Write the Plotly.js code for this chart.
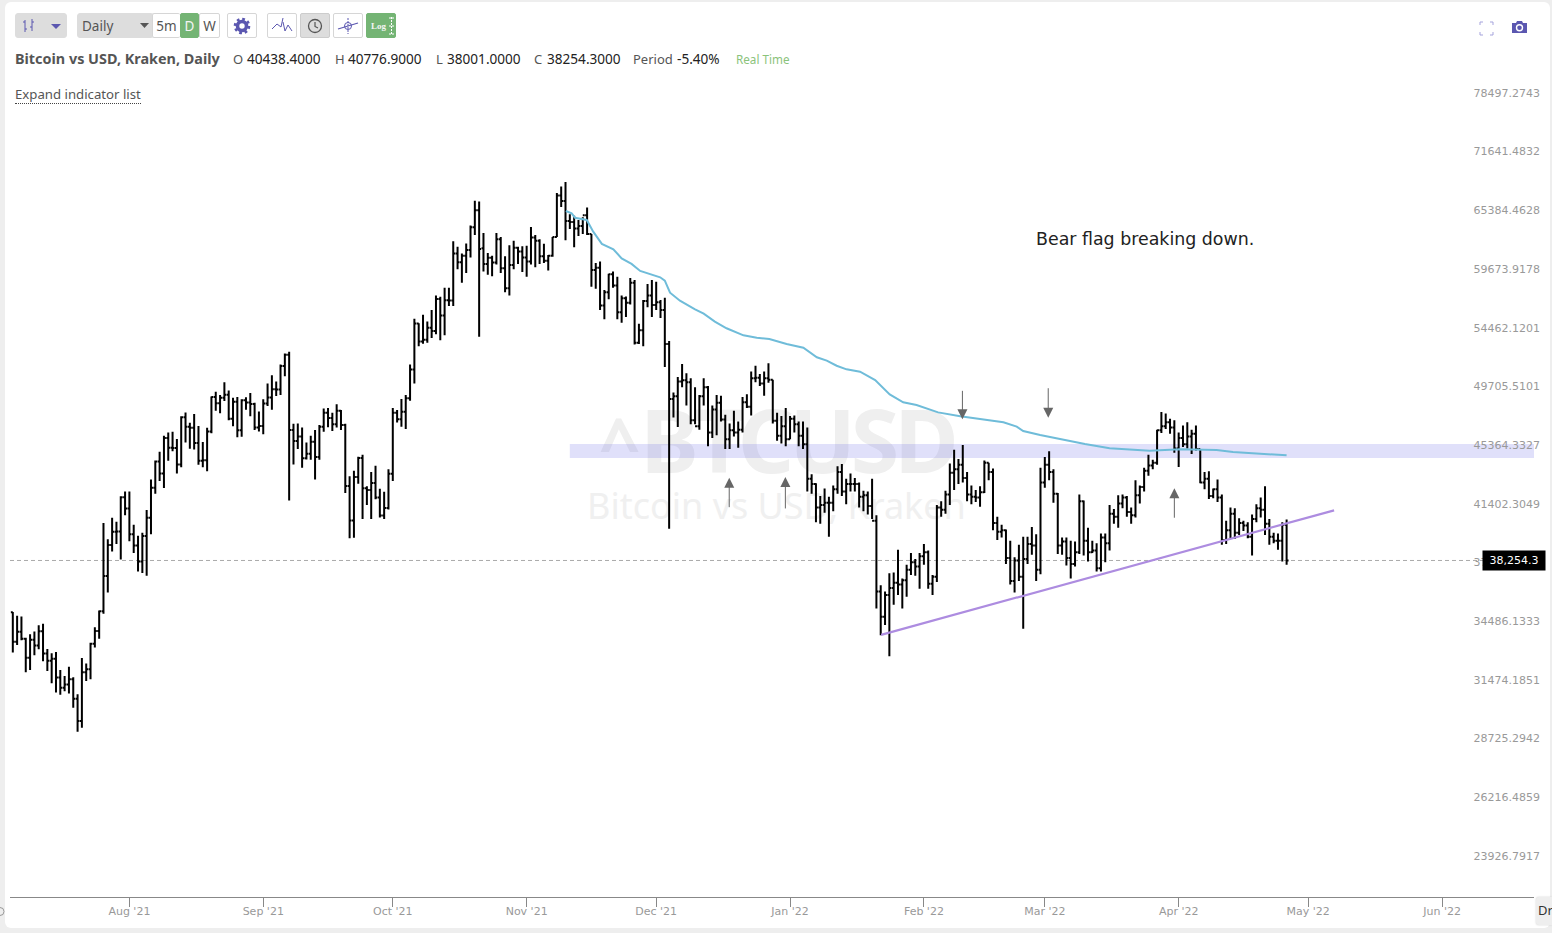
<!DOCTYPE html>
<html><head><meta charset="utf-8">
<script src="https://cdn.plot.ly/plotly-3.0.1.min.js"></script>
<style>
html,body{margin:0;padding:0;width:1552px;height:933px;overflow:hidden;background:#eeeeee;font-family:"Noto Sans",sans-serif}
#card{position:absolute;left:5px;top:2px;width:1545px;height:926px;background:#fff;border-radius:6px}
#chart{position:absolute;left:0;top:0;width:1552px;height:933px}
.h{position:absolute;white-space:nowrap}
.t{font-size:13.6px;line-height:20px;top:49px;color:#222}
.l{font-size:13px;line-height:20px;top:49px;color:#555}
.btn{position:absolute;top:13px;height:25px;box-sizing:border-box;border:1px solid #d6d6d6;background:#fff;border-radius:2px;display:flex;align-items:center;justify-content:center;font-size:13.5px;color:#555}
.grey{background:#ddd;border-color:#ddd}
.green{background:#74b474;border-color:#74b474;color:#f4f4f4}
</style></head><body>
<div id="card"></div>
<div class="h" style="left:599px;top:405px;font-size:88px;line-height:68px;font-weight:bold;letter-spacing:-5px;color:#efefef"><span style="font-size:72px;letter-spacing:0;vertical-align:3px">^</span>BTCUSD</div>
<div class="h" style="left:587px;top:488px;font-size:36px;line-height:36px;color:#f0f0f0">Bitcoin vs USD, Kraken</div>
<div id="chart"></div>

<div class="btn grey" style="left:15px;width:52px;border-radius:3px;justify-content:flex-start">
 <svg width="50" height="23"><path d="M9 6V18M16 5V17M7 8H9M9 15H11M14 13H16M16 8H18" stroke="#5b57b0" stroke-width="1" fill="none"/><path d="M35 10H45L40 15Z" fill="#5b57b0"/></svg></div>
<div class="btn grey" style="left:77px;width:75px;justify-content:flex-start;padding-left:4px;border-radius:3px 0 0 3px">Daily
 <svg width="12" height="10" style="position:absolute;left:61px;top:7px"><path d="M1 2H10L5.5 7Z" fill="#555"/></svg></div>
<div class="btn" style="left:152px;width:28px;border-right:0">5m</div>
<div class="btn green" style="left:180px;width:19px">D</div>
<div class="btn" style="left:199px;width:21px">W</div>
<div class="btn" style="left:227px;width:30px"><svg width="18" height="18" viewBox="0 0 18 18"><circle cx="9" cy="9" r="4.5" fill="none" stroke="#5b57b0" stroke-width="3.6"/><circle cx="9" cy="9" r="7" fill="none" stroke="#5b57b0" stroke-width="2.6" stroke-dasharray="2.7 2.8"/></svg></div>
<div class="btn" style="left:267px;width:30px"><svg width="24" height="20"><path d="M2 13L7 8L11 11L13 2M13 6L15 15L18 9L22 15" stroke="#5b57b0" stroke-width="1" fill="none"/></svg></div>
<div class="btn grey" style="left:300px;width:30px;border-color:#ccc"><svg width="18" height="18"><circle cx="9" cy="9" r="6.5" fill="none" stroke="#555" stroke-width="1.3"/><path d="M9 5V9.5L12 11" stroke="#555" stroke-width="1.2" fill="none"/></svg></div>
<div class="btn" style="left:333px;width:30px"><svg width="24" height="20"><path d="M2 13L22 7" stroke="#5b57b0" stroke-width="1.3"/><circle cx="12" cy="10" r="3.5" stroke="#5b57b0" fill="none"/><path d="M12 2V18" stroke="#5b57b0" stroke-dasharray="2 1"/></svg></div>
<div class="btn green" style="left:366px;width:30px;font-family:'Liberation Serif',serif;font-size:9px;font-weight:bold;justify-content:flex-start;padding-left:4px">Log
 <svg width="9" height="20" style="margin-left:1px"><path d="M4.5 1V19M2 2H7M2 10H7M2 18H7" stroke="#fff" stroke-dasharray="2 1"/></svg></div>

<svg class="h" style="left:1479px;top:21px" width="15" height="15"><path d="M1 4V1H4M11 1H14V4M1 11V14H4M11 14H14V11" stroke="#a5a3dc" fill="none"/></svg>
<svg class="h" style="left:1511px;top:19px" width="17" height="16"><path d="M1 4H5L6 2H11L12 4H16V14H1Z" fill="#5b57b0"/><circle cx="8.5" cy="8.7" r="3" fill="none" stroke="#fff" stroke-width="1.4"/></svg>

<div class="h" style="left:15px;top:49px;font-size:14.4px;line-height:20px;font-weight:bold;color:#555">Bitcoin vs USD, Kraken, Daily</div>
<div class="h l" style="left:233px">O</div><div class="h t" style="left:247px">40438.4000</div>
<div class="h l" style="left:335px">H</div><div class="h t" style="left:348px">40776.9000</div>
<div class="h l" style="left:436px">L</div><div class="h t" style="left:447px">38001.0000</div>
<div class="h l" style="left:534px">C</div><div class="h t" style="left:547px">38254.3000</div>
<div class="h l" style="left:633px">Period</div><div class="h t" style="left:677px">-5.40%</div>
<div class="h" style="left:736px;top:50px;font-size:11.7px;line-height:18px;color:#8bc37b">Real Time</div>
<div class="h" style="left:15px;top:85px;font-size:13.2px;line-height:18px;color:#555;border-bottom:1px dotted #444">Expand indicator list</div>
<div class="h" style="left:1536px;top:897px;width:16px;height:28px;background:#eeeeee;border-radius:3px 0 0 3px;box-sizing:border-box;padding:4px 0 0 2px;font-size:13px;color:#333;overflow:hidden;box-shadow:0 0 2px #ccc">Dr</div>
<svg class="h" style="left:0;top:905px" width="6" height="13"><circle cx="0" cy="6.5" r="4" fill="none" stroke="#999"/></svg>

<script>
const firstDate = '2021-07-05';
const opens = [
35290,33710,34230,33870,32880,33810,33510,34260,33100,32730,32820,31880,31380,31530,31790,30840,29790,32140,32290,33600,34280,35350,37340,39190,40000,40020,42220,
41480,39850,39150,38190,39740,40880,42840,44630,43810,46290,45600,45570,44420,47820,47110,47030,45930,44680,44720,46760,49340,48870,49290,49520,47700,48990,46850,49090,48920,48810,47060,
47170,48840,49300,49940,49930,51790,52700,46880,46070,46400,44850,45170,46030,44950,47110,48150,47760,47290,48310,47240,42960,40720,43570,44880,42810,42700,43160,42200,41030,41520,
43790,48150,47670,48230,49250,51500,55340,53800,53950,54960,54680,57480,56020,57370,57350,61700,60880,61500,62040,64280,66000,62200,60700,61300,60850,63080,60300,58450,60600,62250,61900,
61320,60950,63250,62950,61450,61010,61500,63300,67550,66950,64900,64800,64150,64400,65500,63600,60150,60350,56900,58100,59750,58700,56300,57550,57150,58950,53700,54750,57300,57800,
56950,57200,56500,53600,49200,49400,50550,50650,50500,47600,47150,49400,50100,46700,48400,48900,47650,46200,46850,46700,46900,48950,48600,50800,50850,50400,50800,50700,47550,46450,47150,
46200,47700,47300,46450,45850,43450,43100,41550,41700,41850,41850,42750,43900,42600,43100,43100,43100,42250,42350,41650,40700,36450,35050,36250,36650,36950,36850,37100,37700,38150,37900,
38500,38750,36900,37300,41550,41400,42400,43850,44100,44400,43500,42400,42250,42200,42550,44550,43900,40550,40000,40100,38400,37050,38250,37300,38350,39250,39150,37700,
43200,44400,43900,42450,39150,39400,38400,38050,38750,41950,39450,38750,38850,37800,39650,39300,41150,40950,41800,42200,41250,41050,42350,42900,44000,44350,44550,46850,47150,47450,47050,
45550,46300,45850,46400,46600,45500,43200,43450,42300,42750,42200,39500,40100,41150,39950,40550,40400,39700,40800,41500,41400,40500,39700,39450,39450,40438.4];
const highs = [
35300,35100,35060,33920,34100,34250,34590,34670,33330,33110,33170,32250,31950,32420,31890,31060,32860,32580,33650,34480,35390,40550,39540,40880,40640,42280,42600,
42600,40450,39750,39950,41380,43400,44700,45310,46460,46700,46740,46230,47880,48170,47400,48050,47170,46000,47040,49380,49760,49500,50500,49850,49290,49350,49180,49320,49650,48910,48250,
49180,50400,51050,50560,51900,52800,52950,47340,47350,47050,45970,46450,46880,47250,48470,48500,48160,48800,48360,47340,43620,44000,44970,45100,42950,43900,44340,42780,42570,44100,
48500,48350,49200,49500,51900,55750,55350,56100,55500,56500,57800,57680,58500,58500,62900,62350,61700,62680,64450,67000,66900,63700,61750,61500,63700,63300,61450,62500,62950,62350,62400,
62450,64300,63500,63100,62650,61550,63300,67800,68500,68980,65600,65450,65000,65300,66300,63600,60800,60950,58300,59800,60000,59500,57800,57700,59400,59200,55300,57400,58850,59200,
59050,57400,57600,53850,49700,50900,51950,51200,50800,50100,49500,50800,50200,48700,49500,49450,48000,47350,48300,47500,49350,49550,51350,51800,51150,51350,52000,50700,48150,47900,48500,
47900,47950,47500,47500,47050,43750,43150,42300,42800,42250,43000,44300,44450,43450,43800,43500,43200,42650,42600,43450,41050,36800,36450,37500,37550,38900,37200,38000,38700,38350,38700,
39250,38850,37400,41700,41950,42650,44500,45450,44800,45800,43900,43000,42700,42950,44700,44550,44150,40950,40450,40150,39450,38450,39200,39700,39700,40300,39850,44200,
44950,45350,44100,42500,39650,39650,39450,39400,42400,42000,40250,39450,39300,39900,39900,41700,41450,42350,42400,42300,41550,43350,43000,44200,45100,44750,46900,48200,48100,47700,47600,
46700,47200,47450,46900,47200,45500,43900,43950,42800,43400,42400,40700,41550,41500,40850,40700,40600,41100,41750,42200,42950,40800,39950,39900,40600,40776.9];
const lows = [
33150,33530,33780,32140,32260,33010,33310,32700,32210,31600,31150,31030,31200,31100,30410,29300,29480,31710,31800,33400,33860,35210,36400,38800,39250,38320,41040,
39420,38700,37600,37520,37360,39850,42450,43300,42830,44680,45350,43800,44240,45970,45520,45480,44400,44240,43960,46640,48300,48120,49040,47600,47150,46340,46380,48370,47880,46880,46760,
46560,48660,48380,49430,49500,50970,42000,44430,45510,44200,44770,44750,43400,44760,46750,47080,46800,47050,46880,42500,39600,39640,43110,40800,41700,40800,42080,40900,40800,41420,
43300,47430,47120,46950,49050,50400,53400,53620,53700,54100,54420,53900,54320,56850,56850,60200,58950,59850,61330,63500,54200,60000,59700,59550,60650,59850,58100,57800,60200,60700,59950,
59500,60650,60400,60700,60800,60100,61400,63300,66350,63000,64100,62300,63400,63600,63500,58600,58400,56500,55700,57450,58500,55700,55400,55900,57000,53550,53600,53400,56750,55900,
56500,55800,51700,40200,47800,47100,50100,48700,47300,47300,46900,48700,45700,46300,46500,47500,45500,45500,46400,45600,46700,48500,47950,50500,50200,49450,50450,47350,46100,45900,45700,
46200,46700,45700,45500,42600,42450,40600,40500,41200,39700,41300,42450,42300,41750,42600,42600,41550,41300,41100,40800,35500,34050,34600,32950,35700,36250,35500,36150,37400,37350,36600,
38000,36600,36250,37000,40950,41150,41700,42700,43100,43200,41950,41750,41900,41600,42500,43350,40100,39500,39650,38050,36850,36400,37050,34400,38050,38600,37050,37450,
42850,43350,41850,38650,38600,37950,37200,37900,38650,38550,38200,38700,37600,37600,38150,38850,40500,40250,41500,40950,40500,40900,41800,42600,43650,44100,44400,46650,46950,46600,45250,
44250,45650,45550,45150,45400,43150,42750,42100,42150,41900,39200,39250,39600,39550,39800,40050,39600,38550,40600,40900,39800,39200,39300,38900,38200,38001];
const closes = [
33710,34230,33870,32880,33810,33510,34260,33100,32730,32820,31880,31380,31530,31790,30840,29790,32140,32290,33600,34280,35350,37340,39190,40000,40020,42220,41480,
39850,39150,38190,39740,40880,42840,44630,43810,46290,45600,45570,44420,47820,47110,47030,45930,44680,44720,46760,49340,48870,49290,49520,47700,48990,46850,49090,48920,48810,47060,47170,
48840,49300,49940,49930,51790,52700,46880,46070,46400,44850,45170,46030,44950,47110,48150,47760,47290,48310,47240,42960,40720,43570,44880,42810,42700,43160,42200,41030,41520,43790,
48150,47670,48230,49250,51500,55340,53800,53950,54960,54680,57480,56020,57370,57350,61700,60880,61500,62040,64280,66000,62140,60700,61300,60850,63080,60300,58450,60600,62250,61900,61320,
60950,63250,62950,61450,61010,61500,63300,67550,66950,64900,64800,64150,64400,65500,63600,60150,60350,56900,58100,59750,58700,56300,57550,57150,58950,53700,54750,57300,57800,56950,
57200,56500,53600,49200,49400,50550,50650,50500,47600,47150,49400,50100,46700,48400,48900,47650,46200,46850,46700,46900,48950,48600,50800,50850,50400,50800,50700,47550,46450,47150,46200,
47700,47300,46450,45850,43450,43100,41550,41700,41850,41850,42750,43900,42600,43100,43100,43100,42250,42350,41650,40700,36450,35050,36250,36650,36950,36850,37100,37700,38150,37900,38500,
38750,36900,37300,41550,41400,42400,43850,44100,44400,43500,42400,42250,42200,42550,44550,43900,40550,40000,40100,38400,37050,38250,37300,38350,39250,39150,37700,43200,
44400,43900,42450,39150,39400,38400,38050,38750,41950,39450,38750,38850,37800,39650,39300,41150,40950,41800,42200,41250,41050,42350,42900,44000,44350,44550,46850,47150,47450,47050,45550,
46300,45850,46400,46600,45500,43200,43450,42300,42750,42200,39500,40100,41150,39950,40550,40400,39700,40800,41500,41400,40500,39700,39450,39450,40438,38254.3];

const maDates = ['2021-11-10 02:00','2021-11-11 10:00','2021-11-12 05:00','2021-11-14 22:00','2021-11-16 10:00','2021-11-18 10:00','2021-11-21 02:00','2021-11-23','2021-11-25 07:00','2021-11-27 07:00','2021-12-01 22:00','2021-12-03','2021-12-04 05:00','2021-12-06 12:00','2021-12-10','2021-12-12','2021-12-14 14:00','2021-12-17 07:00','2021-12-21 05:00','2021-12-24 07:00','2021-12-27 05:00','2021-12-31 05:00','2022-01-04 02:00','2022-01-07 05:00','2022-01-09 12:00','2022-01-11 19:00','2022-01-14 02:00','2022-01-17 05:00','2022-01-20 17:00','2022-01-22 05:00','2022-01-24 02:00','2022-01-27 05:00','2022-01-30 07:00','2022-02-04 07:00','2022-02-09 10:00','2022-02-14','2022-02-19 10:00','2022-02-22 12:00','2022-02-24','2022-02-27 22:00','2022-03-04 12:00','2022-03-10 07:00','2022-03-16','2022-03-25 07:00','2022-04-01 07:00','2022-04-09 19:00','2022-04-13 14:00','2022-04-19 19:00','2022-04-26'];
const maValues = [65930,65690,65240,65010,63840,62630,62110,61240,60710,60050,59460,59150,58050,57330,56570,56180,55490,54920,54320,54120,54010,53590,53280,52500,52220,51810,51520,51330,50670,50150,49550,48940,48740,48180,47890,47690,47440,47120,46800,46510,46220,45860,45560,45390,45490,45440,45300,45180,45060];

const trendDates = ['2022-01-22 02:00','2022-05-07'];
const trendValues = [34070,41360];

const bandLow = 44876, bandHigh = 45862, bandStart = '2021-11-11';
const lastPrice = 38254.3, lastPriceLabel = '38,254.3';

const priceTicks = [78497.2743,71641.4832,65384.4628,59673.9178,54462.1201,49705.5101,45364.3327,41402.3049,37786.4716,34486.1333,31474.1851,28725.2942,26216.4859,23926.7917];
const priceTickLabels = priceTicks.map(v=>v.toFixed(4));
const monthTicks = ['2021-08-01','2021-09-01','2021-10-01','2021-11-01','2021-12-01','2022-01-01','2022-02-01','2022-03-01','2022-04-01','2022-05-01','2022-06-01'];
const monthLabels = ["Aug '21","Sep '21","Oct '21","Nov '21","Dec '21","Jan '22","Feb '22","Mar '22","Apr '22","May '22","Jun '22"];

const arrowDates = ['2021-12-17 22:00','2021-12-30 22:00','2022-03-31','2022-02-09 22:00','2022-03-01 19:00'];
const arrowPrices = [43520,43570,42810,47660,47780];
const arrowTails = [31,33,31,-30,-31];

const note = 'Bear flag breaking down.';
const noteDate = '2022-02-26 14:00', notePrice = 63110;

const dates = opens.map((_,i)=>{const d=new Date(firstDate+'T00:00:00Z');d.setUTCDate(d.getUTCDate()+i);return d.toISOString().slice(0,10);});

const traces = [
 {type:'ohlc',x:dates,open:opens,high:highs,low:lows,close:closes,tickwidth:0.45,
  increasing:{line:{color:'#000',width:2}},decreasing:{line:{color:'#000',width:2}},hoverinfo:'skip'},
 {type:'scatter',mode:'lines',x:maDates,y:maValues,line:{color:'#6fbcd9',width:2},hoverinfo:'skip'},
 {type:'scatter',mode:'lines',x:trendDates,y:trendValues,line:{color:'#ad8ce0',width:2.2},hoverinfo:'skip'}
];
const axisFont = {family:'"DejaVu Sans",sans-serif',size:11,color:'#999'};
const anns = arrowDates.map((d,i)=>({x:d,y:Math.log10(arrowPrices[i]),xref:'x',yref:'y',text:'',showarrow:true,
  arrowhead:2,arrowsize:2,arrowwidth:1,arrowcolor:'#666',ax:0,ay:arrowTails[i],standoff:0}));
anns.push({x:noteDate,y:Math.log10(notePrice),xref:'x',yref:'y',text:note,showarrow:false,xanchor:'left',yanchor:'middle',
  font:{family:'"DejaVu Sans",sans-serif',size:17.4,color:'#222'}});
anns.push({x:(1514-10)/1524,xref:'paper',y:Math.log10(lastPrice),yref:'y',text:lastPriceLabel,showarrow:false,bgcolor:'#000',
  font:{family:'"DejaVu Sans",sans-serif',size:11,color:'#fff'},width:60,height:17,borderpad:1,xanchor:'center',yanchor:'middle'});

const layout = {
 width:1552,height:933,autosize:false,showlegend:false,
 paper_bgcolor:'rgba(0,0,0,0)',plot_bgcolor:'rgba(0,0,0,0)',
 margin:{l:10,r:18,t:76,b:36,pad:0},
 xaxis:{type:'date',range:['2021-07-04 08:24','2022-06-22 07:00'],rangeslider:{visible:false},
  tickmode:'array',tickvals:monthTicks,ticktext:monthLabels,ticks:'outside',ticklen:9,tickwidth:1,tickcolor:'#888',
  showline:true,linecolor:'#888',linewidth:1,showgrid:false,zeroline:false,tickfont:axisFont,tickangle:0,ticklabelstandoff:-5},
 yaxis:{type:'log',side:'right',range:[Math.log10(22650),Math.log10(81353)],
  tickmode:'array',tickvals:priceTicks,ticktext:priceTickLabels,ticks:'',showline:false,showgrid:false,zeroline:false,
  tickfont:axisFont,ticklabelposition:'inside',ticklabelshift:-6,ticklabelstandoff:-9},
 shapes:[
  {type:'rect',layer:'below',xref:'x',yref:'y',x0:bandStart,x1:'2022-06-22 07:00',y0:bandLow,y1:bandHigh,fillcolor:'rgba(90,90,230,0.19)',line:{width:0}},
  {type:'line',layer:'below',xref:'paper',x0:0,x1:1,yref:'y',y0:lastPrice,y1:lastPrice,line:{color:'#aaa',width:1,dash:'4px,3px'}}
 ],
 annotations:anns
};
Plotly.newPlot('chart',traces,layout,{displayModeBar:false,staticPlot:true});
</script>
</body></html>
